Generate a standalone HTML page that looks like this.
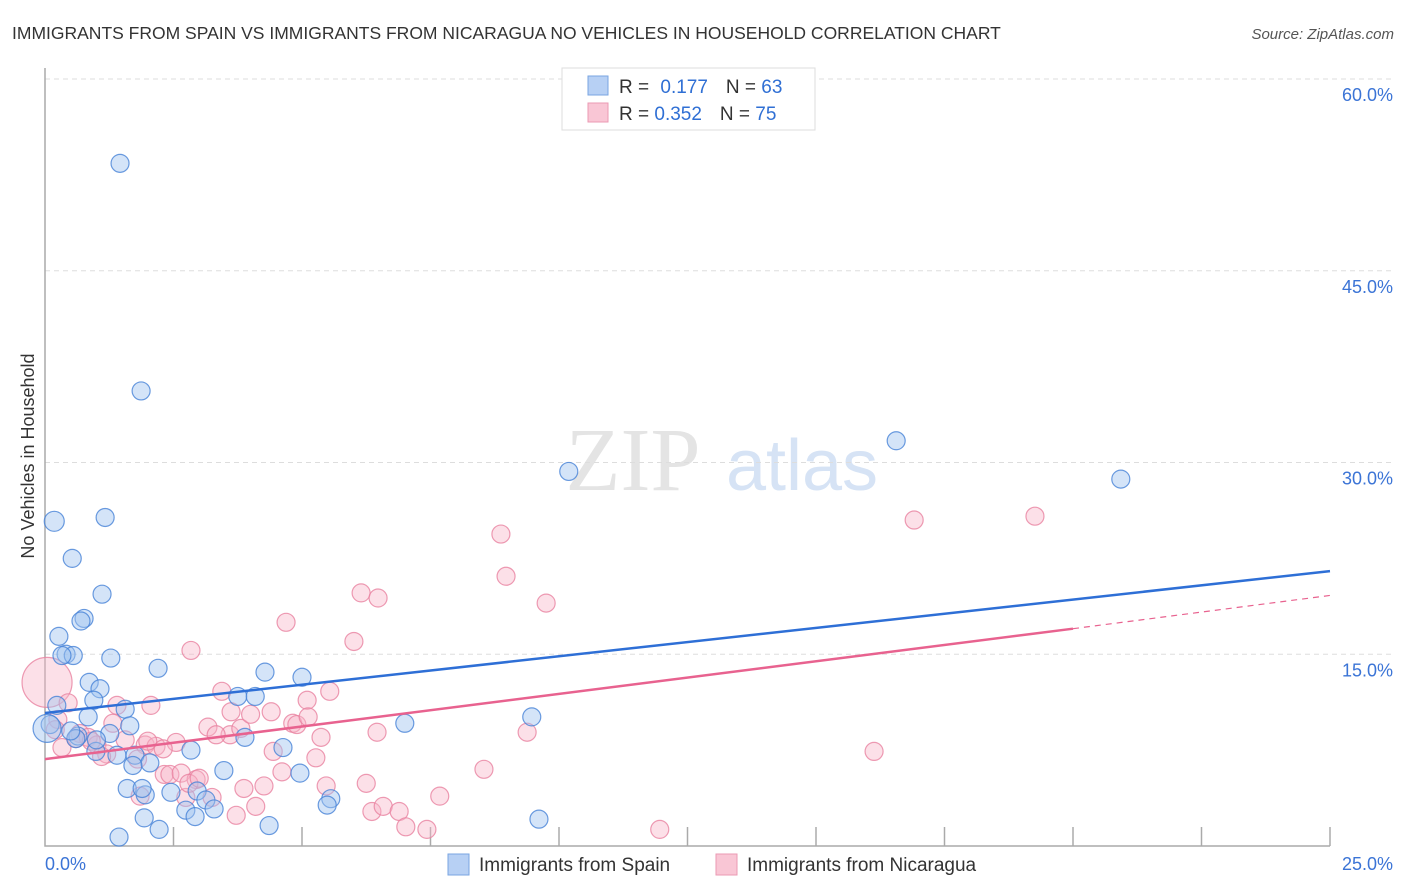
<!DOCTYPE html>
<html><head><meta charset="utf-8"><style>
body{margin:0;background:#fff;font-family:"Liberation Sans",sans-serif}
svg{display:block}
</style></head><body>
<svg id="c" width="1406" height="892">
<text x="12" y="39" font-size="17.5" fill="#333">IMMIGRANTS FROM SPAIN VS IMMIGRANTS FROM NICARAGUA NO VEHICLES IN HOUSEHOLD CORRELATION CHART</text>
<text x="1394" y="39" font-size="15" fill="#555" font-style="italic" text-anchor="end">Source: ZipAtlas.com</text>
<text x="34" y="456" font-size="18" fill="#333" text-anchor="middle" transform="rotate(-90 34 456)">No Vehicles in Household</text>
<g><text x="633" y="490" font-size="90" font-family="Liberation Serif,serif" fill="#e4e4e4" text-anchor="middle">ZIP</text><text x="802" y="490" font-size="72" fill="#d6e3f5" text-anchor="middle">atlas</text></g>
<g id="grid"></g><g id="pts"></g><g id="lines"></g>
<g>
<rect x="562" y="68" width="253" height="62" fill="#fff" stroke="#ddd"/>
<rect x="588" y="76" width="20" height="19" fill="#b7d0f4" stroke="#7aa5e2"/>
<rect x="588" y="103" width="20" height="19" fill="#f9c6d5" stroke="#eb9ab3"/>
<text x="619" y="93" font-size="19" fill="#333">R = <tspan fill="#2f6fd4" dx="6">0.177</tspan><tspan dx="18" fill="#333">N = </tspan><tspan fill="#2f6fd4">63</tspan></text>
<text x="619" y="120" font-size="19" fill="#333">R = <tspan fill="#2f6fd4">0.352</tspan><tspan dx="18" fill="#333">N = </tspan><tspan fill="#2f6fd4">75</tspan></text>
</g>
<g>
<rect x="448" y="854" width="21" height="21" fill="#b7d0f4" stroke="#7aa5e2"/>
<text x="479" y="871" font-size="19" fill="#333">Immigrants from Spain</text>
<rect x="716" y="854" width="21" height="21" fill="#f9c6d5" stroke="#eb9ab3"/>
<text x="747" y="871" font-size="19" fill="#333">Immigrants from Nicaragua</text>
</g>
</svg>
<script>
const yTicks=[15,30,45,60];
const yTickLabels=["15.0%","30.0%","45.0%","60.0%"];
const xTicks=[2.5,5,7.5,10,12.5,15,17.5,20,22.5,25];
const spainX=[1.46,1.87,0.18,1.17,0.53,1.11,0.76,0.27,0.41,0.55,1.28,2.2,0.86,1.07,0.95,1.56,0.23,0.84,1.65,0.1,0.04,1.26,0.64,0.99,1.4,1.75,2.04,1.71,2.84,3.48,1.6,1.95,1.89,2.45,2.96,3.13,2.74,3.29,2.92,1.93,2.22,1.44,3.75,4.09,4.28,3.89,5.0,4.63,4.96,4.36,5.56,5.49,7.0,9.47,9.61,10.19,16.56,20.93,0.33,0.7,1.0,0.6,0.5];
const spainY=[53.4,35.6,25.4,25.7,22.5,19.7,17.8,16.4,15.0,14.9,14.7,13.9,12.8,12.3,11.4,10.7,11.0,10.1,9.4,9.5,9.2,8.8,8.6,7.4,7.1,7.1,6.5,6.3,7.5,5.9,4.5,4.0,4.5,4.2,4.3,3.6,2.8,2.9,2.3,2.2,1.3,0.7,11.7,11.7,13.6,8.5,13.2,7.7,5.7,1.6,3.7,3.2,9.6,10.1,2.1,29.3,31.7,28.7,14.9,17.6,8.3,8.4,9.0];
const nicX=[0.04,0.45,0.25,0.2,0.33,0.68,0.84,1.01,1.32,1.4,1.56,1.95,2.16,2.06,2.55,2.32,2.43,2.65,2.94,1.85,2.74,3.25,2.84,3.44,3.17,3.62,3.6,3.33,3.81,3.87,4.1,3.72,4.26,4.4,4.44,4.61,4.69,4.82,4.9,5.1,5.12,5.27,5.37,5.54,5.47,6.01,6.15,6.48,6.46,6.25,6.36,6.58,6.89,7.02,7.43,7.68,8.54,8.87,8.97,9.38,9.75,11.96,16.13,16.91,19.26,0.6,1.2,1.8,2.0,2.3,2.8,3.0,1.1,0.9,4.0];
const nicY=[12.8,11.2,9.9,9.1,7.7,8.8,8.5,7.9,9.6,11.0,8.3,7.9,7.8,11.0,8.1,5.6,5.6,5.7,5.2,3.9,3.8,3.8,15.3,12.1,9.3,10.5,8.7,8.7,9.2,4.5,3.1,2.4,4.7,10.5,7.4,5.8,17.5,9.6,9.5,11.4,10.1,6.9,8.5,12.1,4.7,16.0,19.8,19.4,8.9,4.9,2.7,3.1,2.7,1.5,1.3,3.9,6.0,24.4,21.1,8.9,19.0,1.3,7.4,25.5,25.8,8.4,7.2,6.8,8.2,7.6,4.9,5.3,7.0,8.2,10.3];
const spainLine=[10.4,21.5];
const nicLine=[6.8,17.0,19.6];
const X0=45,X1=1330,Y0=846,Y1=79;
const sx=v=>X0+(v/25)*(X1-X0);
const sy=v=>Y0-(v/60)*(Y0-Y1);
const NS="http://www.w3.org/2000/svg";
function mk(t,a,p){const e=document.createElementNS(NS,t);for(const k in a)e.setAttribute(k,a[k]);p.appendChild(e);return e;}
const grid=document.getElementById('grid');
yTicks.forEach((t,i)=>{
 const l=mk('line',{x1:X0,x2:1394,y1:sy(t),y2:sy(t),stroke:'#ddd','stroke-dasharray':'5,4'},grid);
 
 
 const tx=mk('text',{x:1393,y:sy(t)+22,'font-size':18,fill:'#3b74d6','text-anchor':'end'},grid);
 tx.textContent=yTickLabels[i];
 
 
});
const ax=mk('path',{d:`M${X0} 68 V${Y0} H${X1}`,stroke:'#aaa',fill:'none','stroke-width':1.5},grid);


xTicks.forEach(t=>{
 const l=mk('line',{x1:sx(t),x2:sx(t),y1:Y0,y2:Y0-19,stroke:'#aaa','stroke-width':1.5},grid);
 
 
});
[[0,'0.0%',X0,'start'],[25,'25.0%',1393,'end']].forEach(d=>{
 const tx=mk('text',{x:d[2],y:870,'font-size':18,fill:'#3b74d6','text-anchor':d[3]},grid);
 tx.textContent=d[1];
 
 
});
const pts=document.getElementById('pts');
nicX.forEach((x,i)=>{
 const c=mk('circle',{cx:sx(x),cy:sy(nicY[i]),r:i==0?25:9,fill:'rgba(248,180,200,0.42)',stroke:'rgba(232,130,160,0.8)','stroke-width':1.2},pts);
 
 
});
spainX.forEach((x,i)=>{
 const c=mk('circle',{cx:sx(x),cy:sy(spainY[i]),r:i==20?14:(i==2?10:9),fill:'rgba(160,195,240,0.45)',stroke:'rgba(70,130,215,0.8)','stroke-width':1.2},pts);
 
 
});
const lines=document.getElementById('lines');
const b=mk('line',{x1:sx(0),y1:sy(spainLine[0]),x2:sx(25),y2:sy(spainLine[1]),stroke:'#2e6fd6','stroke-width':2.5},lines);


const p=mk('line',{x1:sx(0),y1:sy(nicLine[0]),x2:sx(20),y2:sy(nicLine[1]),stroke:'#e8628f','stroke-width':2.5},lines);


const pd=mk('line',{x1:sx(20),y1:sy(nicLine[1]),x2:sx(25),y2:sy(nicLine[2]),stroke:'#e8628f','stroke-width':1.2,'stroke-dasharray':'6,5'},lines);


</script>
</body></html>
